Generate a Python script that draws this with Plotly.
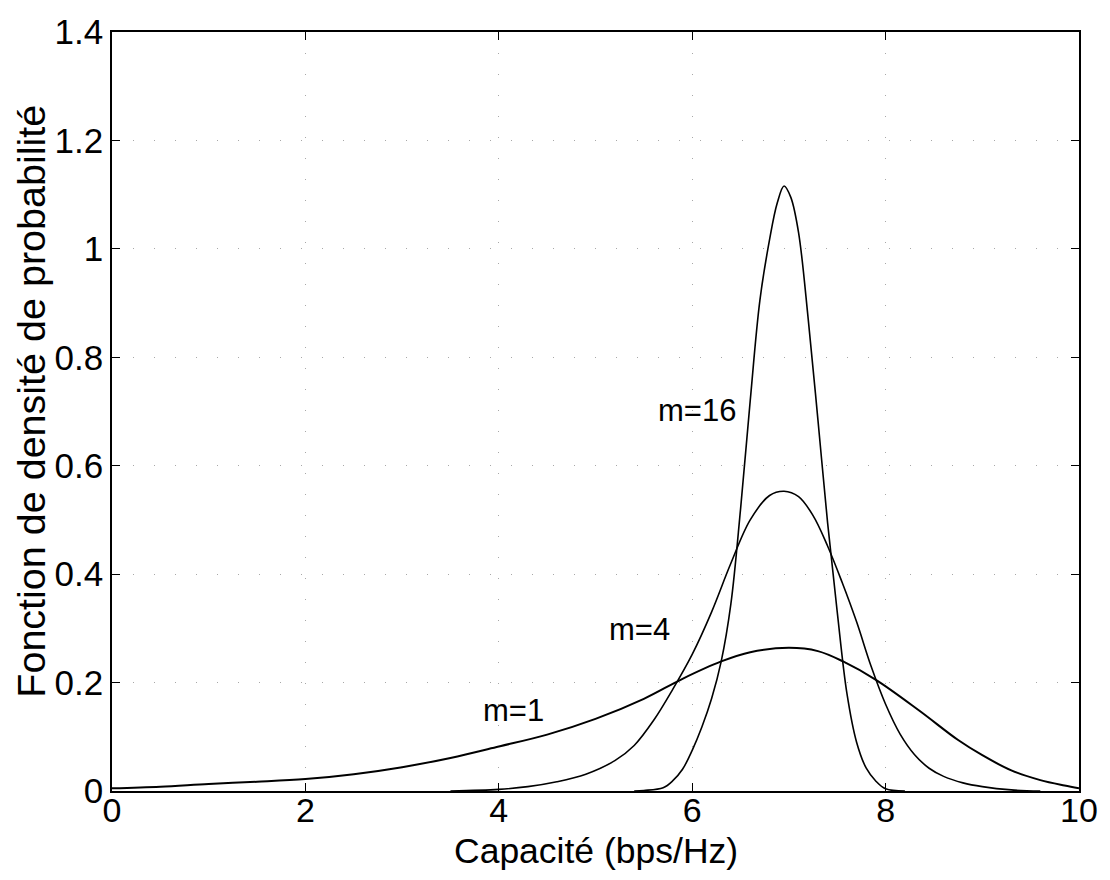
import plotly.graph_objects as go

# ---- data ----
x_m1 = [0.0, 0.5, 1.0, 1.5, 2.0, 2.5, 3.0, 3.5, 4.0, 4.5, 5.0, 5.5, 5.9, 6.3, 6.6, 7.0,
        7.3, 7.56, 7.9, 8.35, 8.75, 9.0, 9.3, 9.6, 9.85, 10.0]
y_m1 = [0.005, 0.008, 0.013, 0.017, 0.022, 0.031, 0.044, 0.061, 0.082, 0.104, 0.133, 0.170,
        0.207, 0.239, 0.256, 0.264, 0.258, 0.239, 0.205, 0.148, 0.094, 0.066, 0.038, 0.020,
        0.010, 0.005]

x_m4 = [3.5, 4.0, 4.3, 4.6, 4.9, 5.2, 5.4, 5.6, 5.8, 6.0, 6.2, 6.4, 6.6, 6.8, 6.95, 7.1,
        7.25, 7.4, 7.55, 7.7, 7.85, 8.0, 8.15, 8.3, 8.45, 8.6, 8.8, 9.0, 9.3, 9.6]
y_m4 = [0.000, 0.003, 0.008, 0.017, 0.031, 0.056, 0.084, 0.130, 0.188, 0.252, 0.330, 0.420,
        0.500, 0.545, 0.553, 0.543, 0.508, 0.452, 0.385, 0.312, 0.230, 0.160, 0.105, 0.067,
        0.042, 0.027, 0.015, 0.008, 0.002, 0.000]

x_m16 = [5.4, 5.5, 5.7, 5.8, 5.9, 6.0, 6.1, 6.2, 6.3, 6.4, 6.5, 6.6, 6.7, 6.8, 6.88, 6.95,
         7.02, 7.1, 7.2, 7.3, 7.4, 7.5, 7.6, 7.7, 7.8, 7.9, 8.0, 8.2]
y_m16 = [0.000, 0.001, 0.006, 0.019, 0.040, 0.075, 0.118, 0.170, 0.239, 0.345, 0.520, 0.720,
         0.905, 1.017, 1.085, 1.116, 1.095, 1.030, 0.870, 0.685, 0.495, 0.330, 0.180, 0.090,
         0.042, 0.018, 0.004, 0.000]

labels = ["m=1", "m=4", "m=16"]
label_x = [4.15, 5.46, 6.05]
label_y = [0.149, 0.297, 0.702]

x_ticks = [0, 2, 4, 6, 8, 10]
y_ticks = [0, 0.2, 0.4, 0.6, 0.8, 1, 1.2, 1.4]
y_ticklabels = ["0", "0.2", "0.4", "0.6", "0.8", "1", "1.2", "1.4"]

x_title = "Capacité (bps/Hz)"
y_title = "Fonction de densité de probabilité"

FONT = "Liberation Sans, Arial, Helvetica, sans-serif"

fig = go.Figure()
for xs, ys, w in [(x_m1, y_m1, 2.0), (x_m4, y_m4, 1.6), (x_m16, y_m16, 1.6)]:
    fig.add_trace(go.Scatter(x=xs, y=ys, mode="lines",
                             line=dict(color="black", width=w, shape="spline", smoothing=1.0),
                             showlegend=False, hoverinfo="skip"))

for t, lx, ly in zip(labels, label_x, label_y):
    fig.add_annotation(x=lx, y=ly, text=t, showarrow=False,
                       font=dict(family=FONT, size=31, color="black"))

# axis titles placed as paper-anchored annotations (plot area: 112..1080 x 23..791 px)
fig.add_annotation(xref="paper", yref="paper", x=0.5, y=-(852 - 791) / 768,
                   xanchor="center", yanchor="middle", showarrow=False,
                   text=x_title, font=dict(family=FONT, size=35.5, color="black"))
fig.add_annotation(xref="paper", yref="paper", x=(31 - 112) / 968, y=(791 - 397) / 768,
                   xanchor="center", yanchor="middle", showarrow=False, textangle=-90,
                   text=y_title, font=dict(family=FONT, size=39.5, color="black"))

axis_common = dict(
    showline=True, linecolor="black", linewidth=1.5, mirror="ticks",
    ticks="inside", ticklen=8, tickwidth=1, tickcolor="black",
    showgrid=True, gridcolor="#a8a8a8", gridwidth=1, griddash="1px,20px",
    zeroline=False,
)

fig.update_xaxes(range=[0, 10], tickvals=x_ticks, ticktext=[str(v) for v in x_ticks],
                 ticklabelstandoff=-12, tickfont=dict(family=FONT, size=34, color="black"),
                 **axis_common)
fig.update_yaxes(range=[0, 1.4], tickvals=y_ticks, ticktext=y_ticklabels,
                 tickfont=dict(family=FONT, size=35, color="black"), **axis_common)

fig.update_layout(width=1110, height=880,
                  margin=dict(l=112, r=30, t=23, b=89),
                  paper_bgcolor="white", plot_bgcolor="white",
                  font=dict(family=FONT, color="black"))

fig.write_html("out.html")
